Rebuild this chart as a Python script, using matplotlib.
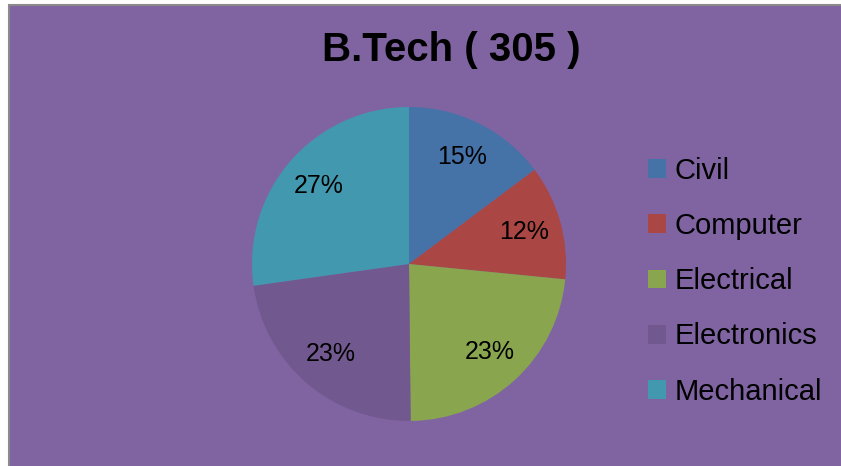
import matplotlib
matplotlib.use("Agg")
import matplotlib.pyplot as plt
from matplotlib.patches import Rectangle, Patch

plt.rcParams["font.family"] = ["Liberation Sans", "DejaVu Sans"]

# 数据
branches = ["Civil", "Computer", "Electrical", "Electronics", "Mechanical"]
students = [45, 36, 71, 70, 83]
colors = ["#4572A7", "#AA4643", "#89A54E", "#71588F", "#4198AF"]
title = "B.Tech ( 305 )"

W, H = 841, 466
fig = plt.figure(figsize=(W / 100, H / 100), dpi=100)
fig.patch.set_facecolor("white")

# 背景框
fig.patches.append(Rectangle((8.5 / W, -0.1), 1.1, 1.1 - 5.5 / H,
                             transform=fig.transFigure, facecolor="#8064A2",
                             edgecolor="#8a8a8a", linewidth=1.5, zorder=-5))

# 饼图
cx, cy, r = 409, H - 264, 157
ax = fig.add_axes([(cx - r) / W, (cy - r) / H, 2 * r / W, 2 * r / H])
ax.set_facecolor("none")
ax.set_zorder(2)
wedges, texts, autotexts = ax.pie(
    students, colors=colors, startangle=90, counterclock=False,
    autopct="%1.0f%%", pctdistance=0.76, radius=1,
    wedgeprops=dict(linewidth=0),
    textprops=dict(fontsize=18, color="black"))
ax.set_xlim(-1, 1)
ax.set_ylim(-1, 1)
ax.set_aspect("equal")
ax.axis("off")

fig.text(451 / W, 1 - 50 / H, title, ha="center", va="center",
         fontsize=29, fontweight="bold", color="black")

handles = [Patch(facecolor=c, edgecolor="none") for c in colors]
leg = fig.legend(handles, branches, loc="upper left",
                 bbox_to_anchor=(648 / W, 1 - 157 / H), frameon=False,
                 fontsize=21, handlelength=0.62, handleheight=0.62,
                 handletextpad=0.3, labelspacing=0.93, borderpad=0,
                 borderaxespad=0)
leg.set_zorder(3)

fig.savefig("out.png", dpi=100)
